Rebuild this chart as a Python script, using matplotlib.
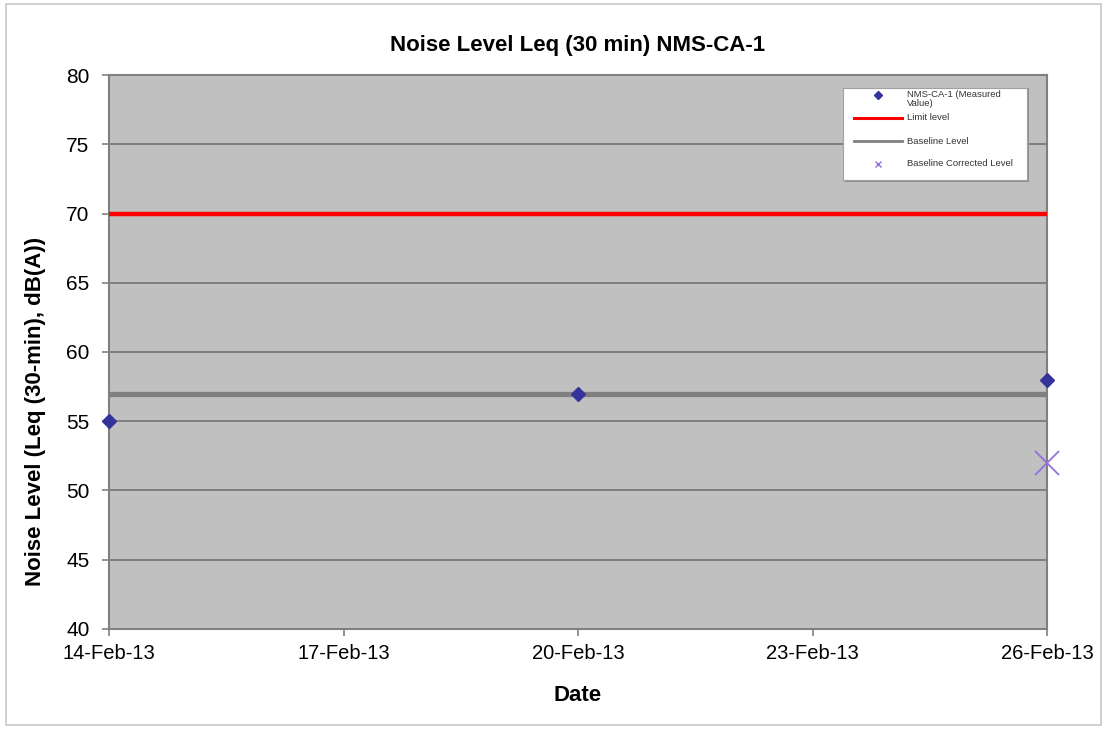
import numpy as np
import matplotlib.pyplot as plt
import matplotlib.dates as mdates
from matplotlib.patches import Rectangle
from datetime import datetime

plt.rcParams['font.family'] = ['Liberation Sans', 'DejaVu Sans']

# Measured noise levels at NMS-CA-1
dates = [datetime(2013, 2, 14), datetime(2013, 2, 20), datetime(2013, 2, 26)]
measured = [55, 57, 58]

# Baseline corrected value
corr_dates = [datetime(2013, 2, 26)]
corrected = [52]

limit_level = 70
baseline_level = 57

x_start = datetime(2013, 2, 14)
x_end = datetime(2013, 2, 26)

fig = plt.figure(figsize=(11.07, 7.29), dpi=100)
ax = fig.add_axes([0.0985, 0.1372, 0.8473, 0.7599])
ax.set_facecolor('#c0c0c0')

# outer chart border
fig.patches.append(Rectangle((0.005, 0.006), 0.99, 0.988, transform=fig.transFigure,
                             fill=False, edgecolor='#c8c8c8', linewidth=1.2))

ax.set_xlim(x_start, x_end)
ax.set_ylim(40, 80)
ax.set_yticks(np.arange(40, 81, 5))
ax.yaxis.grid(True, color='#7a7a7a', linewidth=1.3)
ax.set_axisbelow(True)

ax.xaxis.set_major_locator(mdates.DayLocator(bymonthday=[14, 17, 20, 23, 26]))
ax.xaxis.set_major_formatter(mdates.DateFormatter('%-d-%b-%y'))

ax.plot([x_start, x_end], [limit_level] * 2, color='#ff0000', linewidth=3.2,
        label='Limit level', zorder=3)
ax.plot([x_start, x_end], [baseline_level] * 2, color='#808080', linewidth=3.8,
        label='Baseline Level', zorder=3)
ax.plot(dates, measured, linestyle='none', marker='D', markersize=7,
        color='#333399', label='NMS-CA-1 (Measured\nValue)', zorder=5, clip_on=False)
ax.plot(corr_dates, corrected, linestyle='none', marker='x', markersize=17,
        markeredgewidth=1.3, color='#9370db', label='Baseline Corrected Level',
        zorder=5, clip_on=False)

for s in ax.spines.values():
    s.set_color('#808080')
    s.set_linewidth(1.5)

ax.tick_params(axis='both', colors='#808080', labelcolor='black',
               direction='out', length=5, width=1.2)
ax.tick_params(axis='y', labelsize=15, pad=9)
ax.tick_params(axis='x', labelsize=14.5, pad=6)

ax.set_title('Noise Level Leq (30 min) NMS-CA-1', fontsize=16, fontweight='bold', pad=17)
ax.set_xlabel('Date', fontsize=16, fontweight='bold', labelpad=16)
ax.set_ylabel('Noise Level (Leq (30-min), dB(A))', fontsize=16, fontweight='bold')
ax.yaxis.set_label_coords(-0.067, 0.3935)

# legend box drawn by hand in figure pixels
W, H = 1107, 729
def fx(px):
    return px / W
def fy(py):
    return 1 - py / H

fig.patches.append(Rectangle((fx(845), fy(182)), fx(184), 94 / H, transform=fig.transFigure,
                             facecolor='#909090', edgecolor='none', zorder=9))
fig.patches.append(Rectangle((fx(843), fy(180)), fx(184), 92 / H, transform=fig.transFigure,
                             facecolor='white', edgecolor='#a0a0a0', linewidth=0.8, zorder=10))
lax = fig.add_axes([fx(843), fy(180), fx(184), 92 / H])
lax.set_xlim(843, 1027)
lax.set_ylim(180, 88)
lax.axis('off')
lax.set_zorder(11)
lax.plot([878], [95], marker='D', markersize=4, color='#333399', linestyle='none')
lax.plot([854, 902], [118, 118], color='#ff0000', linewidth=2.2)
lax.plot([854, 902], [141, 141], color='#808080', linewidth=2)
lax.plot([878], [164], marker='x', markersize=4, markeredgewidth=1, color='#9370db',
         linestyle='none')
lax.text(907, 90, 'NMS-CA-1 (Measured\nValue)', fontsize=6.8, va='top', ha='left',
         color='#333333', linespacing=0.95)
lax.text(907, 118, 'Limit level', fontsize=6.8, va='center', ha='left', color='#333333')
lax.text(907, 141, 'Baseline Level', fontsize=6.8, va='center', ha='left', color='#333333')
lax.text(907, 164, 'Baseline Corrected Level', fontsize=6.8, va='center', ha='left',
         color='#333333')

fig.savefig('out.png', dpi=100)
